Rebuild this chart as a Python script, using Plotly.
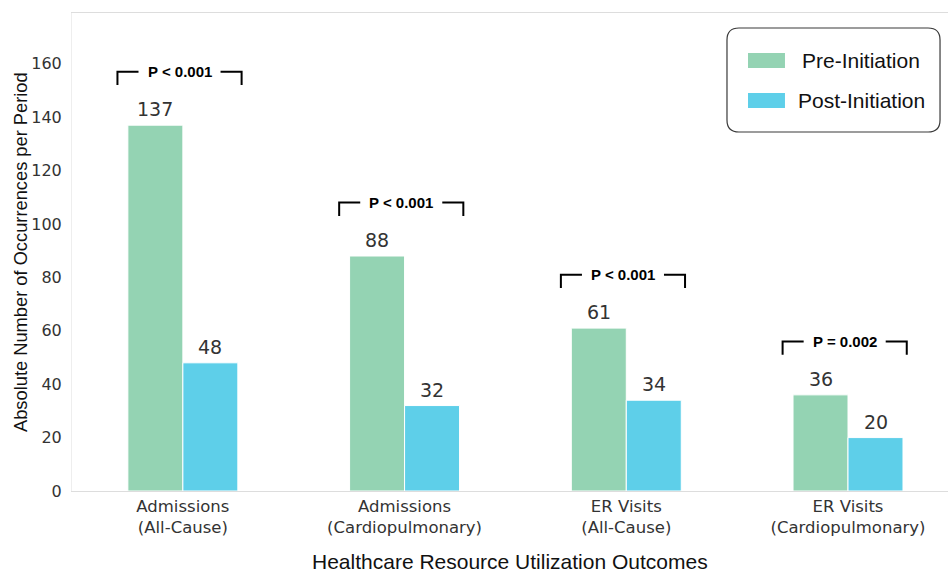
import plotly.graph_objects as go

# Outcome categories and counts per period
categories = [
    "Admissions<br>(All-Cause)",
    "Admissions<br>(Cardiopulmonary)",
    "ER Visits<br>(All-Cause)",
    "ER Visits<br>(Cardiopulmonary)",
]
series_names = ["Pre-Initiation", "Post-Initiation"]
pre_values = [137, 88, 61, 36]
post_values = [48, 32, 34, 20]
p_labels = ["P < 0.001", "P < 0.001", "P < 0.001", "P = 0.002"]
y_ticks = [0, 20, 40, 60, 80, 100, 120, 140, 160]

GREEN = "#94d3b3"
CYAN = "#5ecfe9"
SANS = "Liberation Sans, Arial, sans-serif"

x_pos = list(range(len(categories)))
BAR_W = 0.248  # width of one bar in category units

fig = go.Figure()
for name, vals, col, off in [
    (series_names[0], pre_values, GREEN, -BAR_W / 2),
    (series_names[1], post_values, CYAN, BAR_W / 2),
]:
    fig.add_trace(go.Bar(
        x=[p + off for p in x_pos], y=vals, width=BAR_W, name=name,
        marker=dict(color=col, line=dict(color="white", width=1)),
        showlegend=False, hoverinfo="skip",
    ))

# value labels above each bar
for i in x_pos:
    for vals, off in [(pre_values, -BAR_W / 2), (post_values, BAR_W / 2)]:
        fig.add_annotation(
            x=i + off, y=vals[i], text=str(vals[i]), showarrow=False,
            yanchor="bottom", yshift=3,
            font=dict(family="DejaVu Sans", size=19, color="#333333"),
        )

# significance brackets over each pair
HALF = 0.28      # half-width of bracket
GAP = 0.185      # half-width of gap left for the p-value text
LIFT = 20        # bracket height above the taller bar
DROP = 5         # length of bracket end ticks
for i in x_pos:
    top = max(pre_values[i], post_values[i]) + LIFT
    c = i - 0.015
    fig.add_shape(type="path", xref="x", yref="y",
                  path=f"M {c-HALF},{top-DROP} L {c-HALF},{top} L {c-GAP},{top}",
                  line=dict(color="black", width=2))
    fig.add_shape(type="path", xref="x", yref="y",
                  path=f"M {c+GAP},{top} L {c+HALF},{top} L {c+HALF},{top-DROP}",
                  line=dict(color="black", width=2))
    fig.add_annotation(x=c, y=top, text=f"<b>{p_labels[i]}</b>", showarrow=False,
                       yanchor="middle",
                       font=dict(family=SANS, size=15, color="black"))

# legend box with rounded corners (paper coordinates)
x0, x1, y0, y1 = 0.7477, 0.9909, 0.751, 0.9686
rx, ry = 0.0137, 0.0251
fig.add_shape(
    type="path", xref="paper", yref="paper",
    path=(f"M {x0+rx},{y1} L {x1-rx},{y1} Q {x1},{y1} {x1},{y1-ry} "
          f"L {x1},{y0+ry} Q {x1},{y0} {x1-rx},{y0} L {x0+rx},{y0} "
          f"Q {x0},{y0} {x0},{y0+ry} L {x0},{y1-ry} Q {x0},{y1} {x0+rx},{y1} Z"),
    line=dict(color="#3a3a3a", width=1.2), fillcolor="white", layer="above",
)
legend_rows = [(series_names[0], GREEN, 0.9006), (series_names[1], CYAN, 0.8169)]
for name, col, yc in legend_rows:
    fig.add_shape(type="rect", xref="paper", yref="paper",
                  x0=0.7717, x1=0.8139, y0=yc - 0.0157, y1=yc + 0.0157,
                  fillcolor=col, line=dict(width=0), layer="above")
    fig.add_annotation(xref="paper", yref="paper", x=0.9007, y=yc, text=name,
                       showarrow=False, xanchor="center", yanchor="middle",
                       font=dict(family=SANS, size=21, color="#111111"))

# axis titles
fig.add_annotation(xref="paper", yref="paper", x=0.5, y=0, yshift=-84,
                   text="Healthcare Resource Utilization Outcomes", showarrow=False,
                   yanchor="bottom", font=dict(family=SANS, size=21, color="#111111"))
fig.add_annotation(xref="paper", yref="paper", x=0, y=0.5, xshift=-52,
                   text="Absolute Number of Occurrences per Period", showarrow=False,
                   textangle=-90, xanchor="center", yanchor="middle",
                   font=dict(family=SANS, size=18.3, color="#111111"))

fig.update_layout(
    width=948, height=574,
    margin=dict(l=72, r=0, t=13, b=83),
    plot_bgcolor="white", paper_bgcolor="white",
    barmode="overlay", showlegend=False,
)
fig.update_xaxes(
    range=[-0.5, 3.451], tickvals=x_pos, ticktext=categories,
    tickfont=dict(family="DejaVu Sans", size=16.5, color="#333333"),
    showgrid=False, zeroline=False,
    showline=True, linecolor="#dddddd", linewidth=1, mirror=True,
    ticks="", ticklabelstandoff=0,
)
fig.update_yaxes(
    range=[0, 179], tickvals=y_ticks,
    tickfont=dict(family="DejaVu Sans", size=16, color="#333333"),
    showgrid=False, zeroline=False,
    showline=True, linecolor="#eeeeee", linewidth=1,
    ticks="", ticklabelstandoff=6,
)

fig.write_html("out.html")
